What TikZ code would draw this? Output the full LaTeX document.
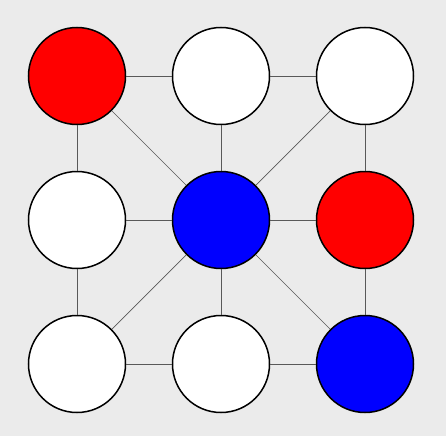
\documentclass[tikz,border=0pt]{standalone}
\definecolor{bggray}{HTML}{EBEBEB}
\tikzset{
  vtx/.style={circle,draw=black,line width=1.5pt,minimum size=97pt,inner sep=0pt,fill=white},
  link/.style={black!65,line width=0.7pt}
}
\begin{document}
\begin{tikzpicture}[x=1pt,y=-1pt]
  \fill[bggray] (0,0) rectangle (446,436);
  \useasboundingbox (0,0) rectangle (446,436);
  % grid of vertices
  \node[vtx,fill=red]  (a1) at (77,76)  {};
  \node[vtx]           (a2) at (221,76) {};
  \node[vtx]           (a3) at (365,76) {};
  \node[vtx]           (b1) at (77,220) {};
  \node[vtx,fill=blue] (b2) at (221,220) {};
  \node[vtx,fill=red]  (b3) at (365,220) {};
  \node[vtx]           (c1) at (77,364) {};
  \node[vtx]           (c2) at (221,364) {};
  \node[vtx,fill=blue] (c3) at (365,364) {};
  % edges
  \foreach \u/\v in {a1/a2,a2/a3,b1/b2,b2/b3,c1/c2,c2/c3,a1/b1,b1/c1,a2/b2,b2/c2,a3/b3,b3/c3,b2/a1,b2/a3,b2/c1,b2/c3}
    \draw[link] (\u) -- (\v);
\end{tikzpicture}
\end{document}
